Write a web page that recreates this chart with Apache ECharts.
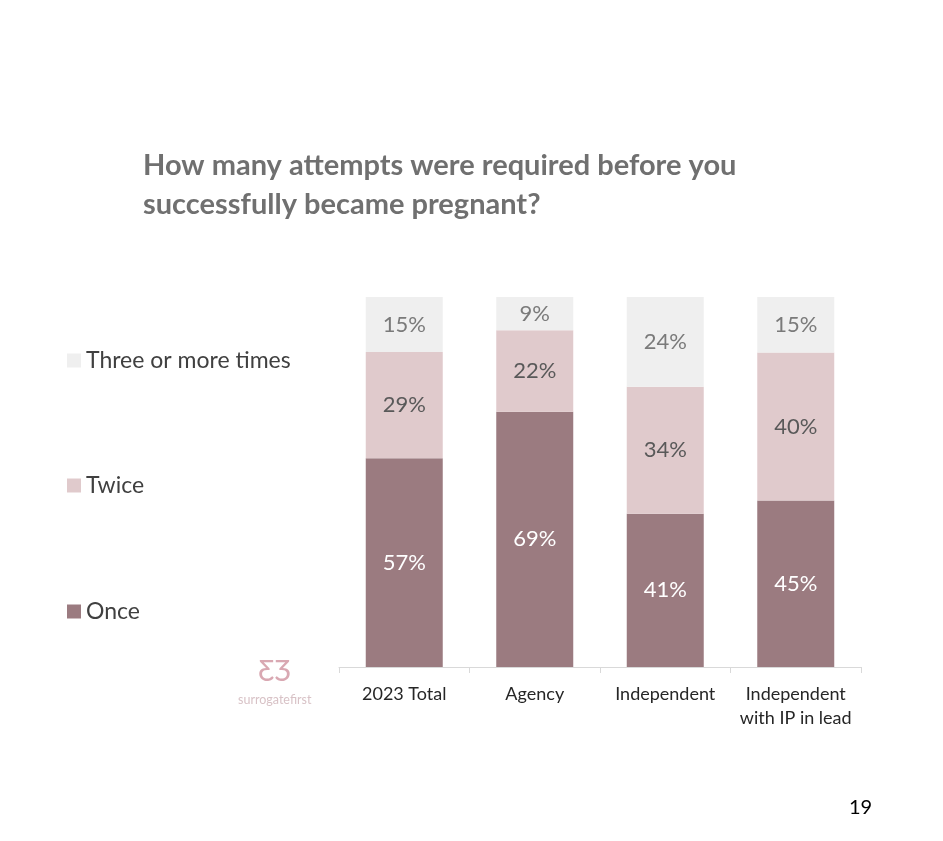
<!DOCTYPE html>
<html>
<head>
<meta charset="utf-8">
<script src="https://cdn.jsdelivr.net/npm/echarts@6/dist/echarts.min.js"></script>
<style>
html,body{margin:0;padding:0;background:#fff;}
#chart{width:943px;height:841px;}
</style>
</head>
<body>
<div id="chart"></div>
<script>
const categories = ['2023 Total', 'Agency', 'Independent', 'Independent\nwith IP in lead'];
const once = [57, 69, 41, 45];
const twice = [29, 22, 34, 40];
const threeOrMore = [15, 9, 24, 15];
const seriesNames = ['Once', 'Twice', 'Three or more times'];

const totals = categories.map((_, i) => once[i] + twice[i] + threeOrMore[i]);
const norm = arr => arr.map((v, i) => ({ value: v / totals[i] * 100, raw: v }));

const FONT = 'Lato, "Open Sans", sans-serif';
const colors = ['#9b7b80', '#e0cacc', '#efefef'];
const labelColors = ['#ffffff', '#595959', '#7a7a7a'];
const raws = [once, twice, threeOrMore];

const chart = echarts.init(document.getElementById('chart'), null, { renderer: 'canvas' });

function mkSeries(idx) {
  return {
    name: seriesNames[idx],
    type: 'bar',
    stack: 'total',
    barWidth: '59%',
    data: norm(raws[idx]),
    itemStyle: { color: colors[idx] },
    label: {
      show: true,
      position: 'inside',
      color: labelColors[idx],
      fontFamily: FONT,
      fontSize: 22,
      formatter: p => raws[idx][p.dataIndex] + '%'
    },
    emphasis: { disabled: true }
  };
}

function mkLegend(name, top) {
  return {
    data: [name],
    left: 62,
    top: top,
    orient: 'vertical',
    icon: 'rect',
    itemWidth: 14,
    itemHeight: 14,
    itemGap: 7,
    selectedMode: false,
    textStyle: { color: '#404040', fontFamily: FONT, fontSize: 23 }
  };
}

chart.setOption({
  animation: false,
  backgroundColor: '#ffffff',
  title: {
    text: 'How many attempts were required before you\nsuccessfully became pregnant?',
    left: 138,
    top: 141,
    textStyle: {
      color: '#707070',
      fontFamily: FONT,
      fontWeight: 'bold',
      fontSize: 29,
      lineHeight: 39
    }
  },
  legend: [
    mkLegend('Three or more times', 344),
    mkLegend('Twice', 469),
    mkLegend('Once', 595)
  ],
  grid: { left: 339, right: 82, top: 297, bottom: 174, containLabel: false },
  xAxis: {
    type: 'category',
    data: categories,
    axisLine: { lineStyle: { color: '#d9d9d9', width: 1 } },
    axisTick: { show: true, length: 6, lineStyle: { color: '#d9d9d9' } },
    axisLabel: {
      color: '#262626',
      fontFamily: FONT,
      fontSize: 18,
      lineHeight: 24,
      margin: 15,
      interval: 0
    }
  },
  yAxis: {
    type: 'value',
    min: 0,
    max: 100,
    show: false,
    splitLine: { show: false }
  },
  series: [mkSeries(0), mkSeries(1), mkSeries(2)],
  graphic: [
    {
      type: 'text',
      left: 258,
      top: 658,
      style: { text: 'ƸƷ', fill: '#d9a8b2', font: '28px ' + FONT }
    },
    {
      type: 'text',
      left: 238,
      top: 693,
      style: { text: 'surrogatefirst', fill: '#d8c2c6', font: '12.5px ' + FONT }
    },
    {
      type: 'text',
      left: 849,
      top: 798,
      style: { text: '19', fill: '#000000', font: '20px ' + FONT }
    }
  ]
});
</script>
</body>
</html>
